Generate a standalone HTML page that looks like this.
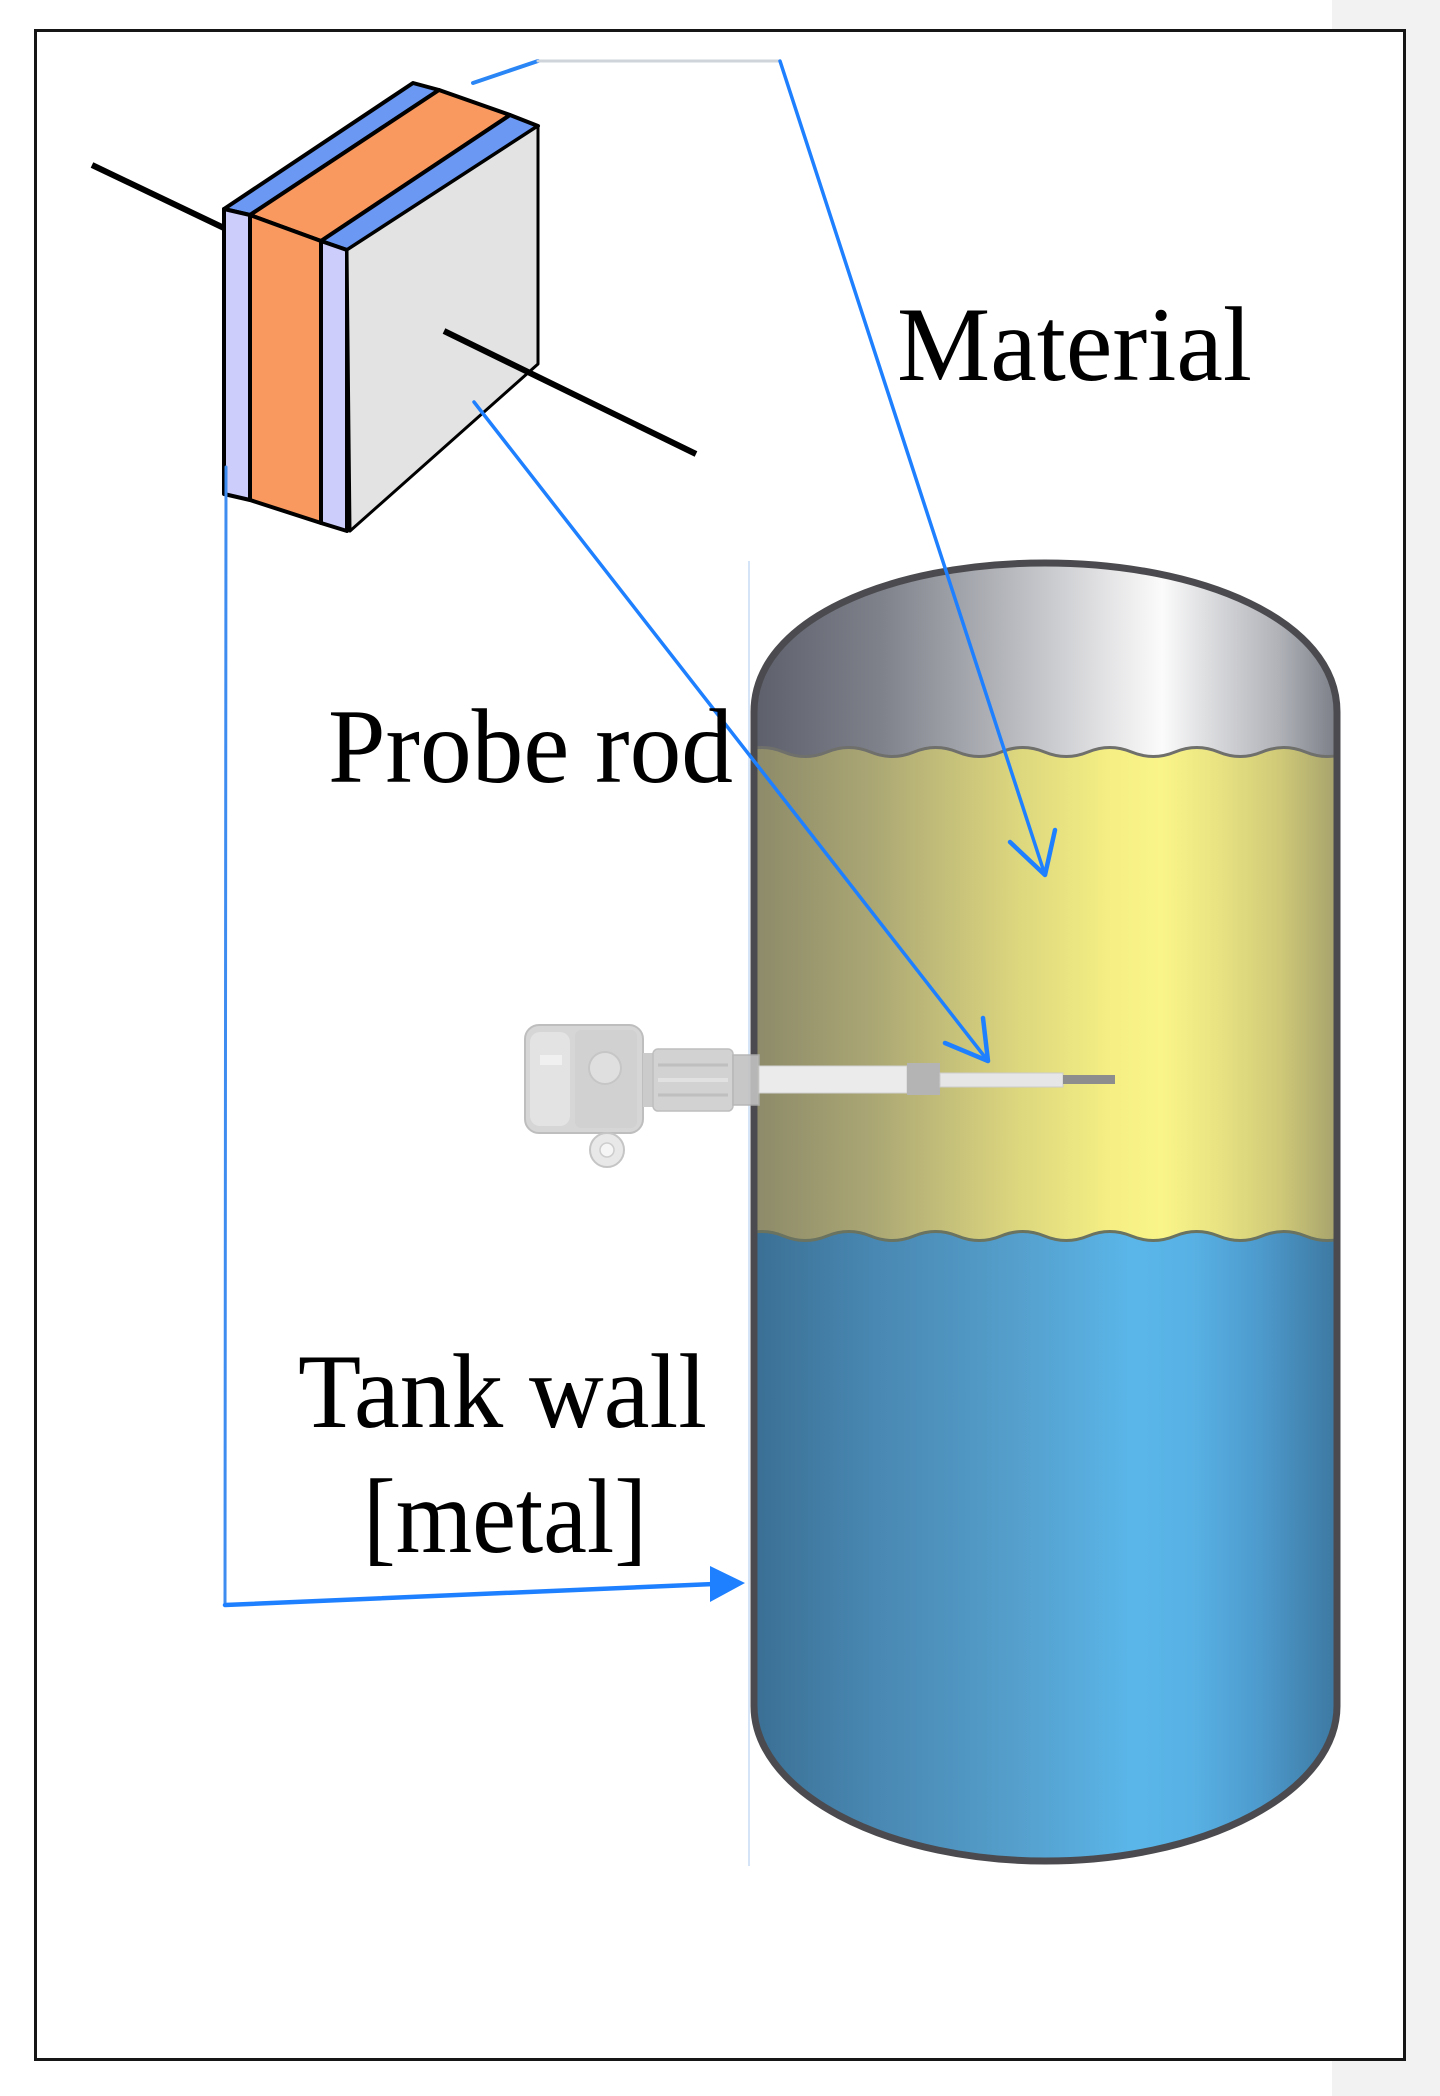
<!DOCTYPE html>
<html>
<head>
<meta charset="utf-8">
<style>
  html, body { margin:0; padding:0; background:#ffffff; }
  body { width:1440px; height:2096px; overflow:hidden; }
  svg { display:block; }
  .lbl { font-family: "Liberation Serif", "DejaVu Serif", serif; font-size:106px; fill:#000; }
</style>
</head>
<body>
<svg width="1440" height="2096" viewBox="0 0 1440 2096" xmlns="http://www.w3.org/2000/svg">
  <defs>
    <linearGradient id="gMetal" x1="754" y1="0" x2="1337" y2="0" gradientUnits="userSpaceOnUse">
      <stop offset="0" stop-color="#5d606b"/>
      <stop offset="0.22" stop-color="#7f828b"/>
      <stop offset="0.45" stop-color="#b9bbc0"/>
      <stop offset="0.6" stop-color="#e2e2e4"/>
      <stop offset="0.7" stop-color="#fbfbfb"/>
      <stop offset="0.8" stop-color="#d4d5d8"/>
      <stop offset="0.9" stop-color="#b0b2b8"/>
      <stop offset="1" stop-color="#7b7e87"/>
    </linearGradient>
    <linearGradient id="gYellow" x1="754" y1="0" x2="1337" y2="0" gradientUnits="userSpaceOnUse">
      <stop offset="0" stop-color="#8c8a69"/>
      <stop offset="0.2" stop-color="#aaa674"/>
      <stop offset="0.45" stop-color="#dcd67e"/>
      <stop offset="0.62" stop-color="#f6f084"/>
      <stop offset="0.7" stop-color="#faf588"/>
      <stop offset="0.8" stop-color="#e8e282"/>
      <stop offset="0.9" stop-color="#d0ca78"/>
      <stop offset="1" stop-color="#a6a26c"/>
    </linearGradient>
    <linearGradient id="gBlue" x1="754" y1="0" x2="1337" y2="0" gradientUnits="userSpaceOnUse">
      <stop offset="0" stop-color="#3b6f94"/>
      <stop offset="0.2" stop-color="#4887b1"/>
      <stop offset="0.45" stop-color="#559fcc"/>
      <stop offset="0.65" stop-color="#5ab6e9"/>
      <stop offset="0.75" stop-color="#58b1e4"/>
      <stop offset="0.86" stop-color="#4e9ccf"/>
      <stop offset="1" stop-color="#3d78a1"/>
    </linearGradient>
    <clipPath id="tankClip">
      <path d="M754,712 C754,620 890,563 1045,563 C1200,563 1337,620 1337,712 L1337,1706 A291.5,155 0 0 1 754,1706 Z"/>
    </clipPath>
  </defs>

  <!-- page background -->
  <rect x="0" y="0" width="1440" height="2096" fill="#ffffff"/>
  <rect x="1332" y="0" width="108" height="2096" fill="#f2f2f2"/>
  <!-- frame -->
  <rect x="35.5" y="30.5" width="1369" height="2029" fill="#ffffff" stroke="#161616" stroke-width="3"/>

  <!-- faint vertical guide -->
  <line x1="749" y1="561" x2="749" y2="1866" stroke="#c9dcf6" stroke-width="1.5"/>

  <!-- Tank -->
  <g clip-path="url(#tankClip)">
    <rect x="740" y="540" width="620" height="300" fill="url(#gMetal)"/>
    <path d="M740,752 q21.75,-9 43.5,0 t43.5,0 t43.5,0 t43.5,0 t43.5,0 t43.5,0 t43.5,0 t43.5,0 t43.5,0 t43.5,0 t43.5,0 t43.5,0 t43.5,0 t43.5,0 t43.5,0 L1392,1900 L740,1900 Z" fill="url(#gYellow)" stroke="#6f6f6c" stroke-width="3"/>
    <path d="M740,1236 q21.75,-9 43.5,0 t43.5,0 t43.5,0 t43.5,0 t43.5,0 t43.5,0 t43.5,0 t43.5,0 t43.5,0 t43.5,0 t43.5,0 t43.5,0 t43.5,0 t43.5,0 t43.5,0 L1392,1900 L740,1900 Z" fill="url(#gBlue)" stroke="#6a7260" stroke-width="3"/>
  </g>
  <path d="M754,712 C754,620 890,563 1045,563 C1200,563 1337,620 1337,712 L1337,1706 A291.5,155 0 0 1 754,1706 Z" fill="none" stroke="#4b4b4f" stroke-width="7"/>

  <!-- Probe device -->
  <g opacity="0.9">
    <rect x="525" y="1025" width="118" height="108" rx="14" fill="#d2d2d2" stroke="#b8b8b8" stroke-width="2"/>
    <rect x="530" y="1032" width="40" height="94" rx="10" fill="#e0e0e0"/>
    <rect x="575" y="1030" width="62" height="98" rx="6" fill="#cdcdcd"/>
    <circle cx="605" cy="1068" r="16" fill="#dcdcdc" stroke="#c0c0c0" stroke-width="2"/>
    <rect x="540" y="1055" width="22" height="10" fill="#efefef"/>
    <circle cx="607" cy="1150" r="17" fill="#e6e6e6" stroke="#bfbfbf" stroke-width="2"/>
    <circle cx="607" cy="1150" r="7" fill="#f4f4f4" stroke="#c8c8c8" stroke-width="1.5"/>
    <rect x="643" y="1053" width="10" height="54" fill="#c6c6c6"/>
    <rect x="653" y="1049" width="80" height="62" rx="5" fill="#cecece" stroke="#b8b8b8" stroke-width="1.5"/>
    <line x1="658" y1="1065" x2="728" y2="1065" stroke="#b9b9b9" stroke-width="3"/>
    <line x1="658" y1="1080" x2="728" y2="1080" stroke="#dedede" stroke-width="4"/>
    <line x1="658" y1="1095" x2="728" y2="1095" stroke="#b9b9b9" stroke-width="3"/>
    <rect x="733" y="1055" width="26" height="50" fill="#c2c2c2" stroke="#b0b0b0" stroke-width="1.5"/>
  </g>
  <rect x="759" y="1066" width="148" height="27" fill="#ebebeb" stroke="#d0d0d0" stroke-width="1"/>
  <rect x="907" y="1063" width="33" height="32" fill="#b4b4b4"/>
  <rect x="940" y="1073" width="123" height="14" fill="#e6e6e6" stroke="#cccccc" stroke-width="1"/>
  <rect x="1063" y="1075" width="52" height="9" fill="#8d8d8d"/>

  <!-- Capacitor -->
  <g stroke="#000" stroke-width="4" stroke-linejoin="round">
    <line x1="92" y1="165" x2="224" y2="228" stroke-width="6"/>
    <polygon points="224,209 413,83 439,90 250,215" fill="#6a98f2"/>
    <polygon points="250,215 439,90 510,115 321,241" fill="#f9995f"/>
    <polygon points="321,241 510,115 538,126 347,250" fill="#6a98f2"/>
    <polygon points="224,209 250,215 250,500 224,494" fill="#cdcdfc"/>
    <polygon points="250,215 321,241 321,523 250,500" fill="#f9995f"/>
    <polygon points="321,241 347,250 347,531 321,523" fill="#cdcdfc"/>
    <polygon points="347,250 538,126 538,364 350,531" fill="#e3e3e3" stroke-width="3"/>
    <line x1="444" y1="331" x2="696" y2="454" stroke-width="6"/>
  </g>

  <!-- Connectors -->
  <g fill="none" stroke-linecap="round" stroke-linejoin="round">
    <polyline points="473,83 538,61" stroke="#2a85f5" stroke-width="4"/>
    <line x1="538" y1="61" x2="780" y2="61" stroke="#cfd4db" stroke-width="3"/>
    <line x1="780" y1="61" x2="1045" y2="875" stroke="#1f80ff" stroke-width="3.5"/>
    <polyline points="1010,842 1045,875 1055,830" stroke="#1f80ff" stroke-width="4.5"/>
    <line x1="474" y1="402" x2="988" y2="1061" stroke="#1f80ff" stroke-width="3.5"/>
    <polyline points="945,1043 988,1061 983,1018" stroke="#1f80ff" stroke-width="4.5"/>
    <line x1="226" y1="467" x2="225" y2="1605" stroke="#3f8cf0" stroke-width="3"/>
    <line x1="225" y1="1605" x2="714" y2="1584" stroke="#1f80ff" stroke-width="4.5"/>
  </g>
  <polygon points="710,1566 745,1583 710,1602" fill="#1f80ff"/>

  <!-- Labels -->
  <text class="lbl" x="897" y="380" textLength="355" lengthAdjust="spacingAndGlyphs">Material</text>
  <text class="lbl" x="328" y="782" textLength="405" lengthAdjust="spacingAndGlyphs">Probe rod</text>
  <text class="lbl" x="298" y="1427" textLength="409" lengthAdjust="spacingAndGlyphs">Tank wall</text>
  <text class="lbl" x="363" y="1552" textLength="284" lengthAdjust="spacingAndGlyphs">[metal]</text>
</svg>
</body>
</html>
